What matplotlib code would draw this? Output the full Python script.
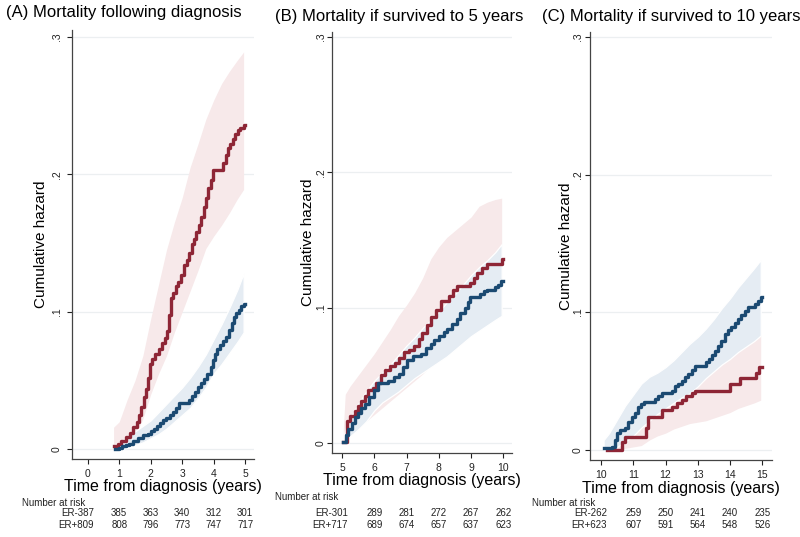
import numpy as np
import matplotlib
matplotlib.use("Agg")
import matplotlib.pyplot as plt
from matplotlib import transforms

plt.rcParams['font.family'] = ['Liberation Sans', 'DejaVu Sans']

RED = '#8e2636'
BLUE = '#1b4a72'
RED_BAND = '#f7e9ea'
BLUE_BAND = '#e5ecf3'
GRID = '#eceff1'
AXC = '#444444'

# ---------------- panel A: from diagnosis ----------------
a_red_t = [0.82, 0.95, 1.05, 1.2, 1.35, 1.45, 1.55, 1.62, 1.7, 1.78, 1.85, 1.92, 1.97,
           2.05, 2.15, 2.25, 2.35, 2.45, 2.52, 2.58, 2.63, 2.72, 2.8, 2.88, 2.97, 3.05,
           3.15, 3.22, 3.3, 3.38, 3.45, 3.52, 3.6, 3.68, 3.75, 3.82, 3.9, 3.98, 4.3,
           4.38, 4.45, 4.52, 4.6, 4.68, 4.76, 4.85, 4.95]
a_red_h = [0.002, 0.004, 0.006, 0.009, 0.012, 0.016, 0.020, 0.025, 0.031, 0.038, 0.044,
           0.052, 0.062, 0.066, 0.069, 0.073, 0.077, 0.081, 0.086, 0.098, 0.110, 0.114,
           0.119, 0.122, 0.127, 0.134, 0.138, 0.143, 0.149, 0.153, 0.158, 0.163, 0.169,
           0.176, 0.183, 0.190, 0.196, 0.203, 0.208, 0.214, 0.219, 0.222, 0.226, 0.229,
           0.232, 0.234, 0.236]
a_blue_t = [0.85, 1.0, 1.1, 1.2, 1.3, 1.45, 1.6, 1.75, 1.9, 2.0, 2.1, 2.2, 2.3, 2.4, 2.5,
            2.6, 2.7, 2.8, 2.9, 3.2, 3.3, 3.4, 3.5, 3.6, 3.7, 3.8, 3.9, 3.97, 4.05, 4.12,
            4.2, 4.3, 4.4, 4.5, 4.58, 4.65, 4.72, 4.8, 4.88, 4.95]
a_blue_h = [0.000, 0.001, 0.002, 0.003, 0.004, 0.006, 0.008, 0.010, 0.011, 0.013, 0.015,
            0.017, 0.019, 0.021, 0.023, 0.025, 0.027, 0.030, 0.034, 0.036, 0.039, 0.042,
            0.045, 0.048, 0.051, 0.055, 0.060, 0.065, 0.069, 0.073, 0.076, 0.079, 0.082,
            0.087, 0.092, 0.096, 0.099, 0.101, 0.104, 0.106]
a_red_band_t = [0.82, 1.0, 1.25, 1.5, 1.75, 2.0, 2.25, 2.5, 2.75, 3.0, 3.25, 3.5, 3.75,
                4.0, 4.25, 4.5, 4.75, 4.95]
a_red_hi = [0.016, 0.020, 0.036, 0.050, 0.068, 0.095, 0.120, 0.145, 0.165, 0.183, 0.205,
            0.222, 0.240, 0.254, 0.266, 0.275, 0.283, 0.289]
a_red_lo = [0.000, 0.001, 0.004, 0.010, 0.022, 0.040, 0.055, 0.068, 0.085, 0.100, 0.115,
            0.130, 0.146, 0.155, 0.163, 0.172, 0.182, 0.189]
a_blue_band_t = [0.85, 1.0, 1.25, 1.5, 1.75, 2.0, 2.25, 2.5, 2.75, 3.0, 3.25, 3.5, 3.75,
                 4.0, 4.25, 4.5, 4.75, 4.95]
a_blue_hi = [0.003, 0.005, 0.009, 0.013, 0.017, 0.021, 0.027, 0.033, 0.039, 0.045, 0.052,
             0.060, 0.069, 0.080, 0.091, 0.103, 0.116, 0.128]
a_blue_lo = [0.000, 0.000, 0.001, 0.003, 0.005, 0.008, 0.011, 0.015, 0.020, 0.025, 0.030,
             0.037, 0.045, 0.055, 0.062, 0.070, 0.078, 0.085]
a_end = 5.0
a_ticks = [0, 1, 2, 3, 4, 5]
a_neg = [387, 385, 363, 340, 312, 301]
a_pos = [809, 808, 796, 773, 747, 717]

# ---------------- panel B: survived to 5 years ----------------
b_red_t = [5.04, 5.14, 5.25, 5.4, 5.5, 5.6, 5.7, 5.81, 5.95, 6.06, 6.2, 6.32, 6.48, 6.63,
           6.78, 6.93, 7.08, 7.24, 7.38, 7.49, 7.62, 7.75, 7.9, 8.06, 8.31, 8.45, 8.57,
           8.98, 9.08, 9.18, 9.35, 9.49, 9.95]
b_red_h = [0.001, 0.016, 0.020, 0.024, 0.027, 0.031, 0.035, 0.039, 0.041, 0.044, 0.050,
           0.054, 0.057, 0.059, 0.063, 0.067, 0.069, 0.072, 0.077, 0.081, 0.087, 0.093,
           0.098, 0.105, 0.109, 0.113, 0.116, 0.118, 0.122, 0.126, 0.129, 0.132, 0.136]
b_blue_t = [5.04, 5.12, 5.2, 5.3, 5.4, 5.5, 5.6, 5.71, 5.85, 6.0, 6.11, 6.42, 6.6, 6.78,
            6.9, 7.03, 7.2, 7.44, 7.6, 7.75, 7.85, 8.0, 8.15, 8.26, 8.4, 8.55, 8.67, 8.8,
            8.9, 8.98, 9.29, 9.4, 9.49, 9.75, 9.85, 9.92]
b_blue_h = [0.001, 0.006, 0.010, 0.015, 0.019, 0.022, 0.026, 0.029, 0.034, 0.039, 0.044,
            0.046, 0.049, 0.051, 0.056, 0.061, 0.064, 0.066, 0.070, 0.073, 0.076, 0.079,
            0.082, 0.084, 0.088, 0.092, 0.096, 0.100, 0.104, 0.108, 0.110, 0.112, 0.113,
            0.115, 0.117, 0.120]
b_band_t = [5.04, 5.1, 5.25, 5.5, 5.75, 6.0, 6.25, 6.5, 6.75, 7.0, 7.25, 7.5, 7.75, 8.0,
            8.25, 8.5, 8.75, 9.0, 9.25, 9.5, 9.75, 9.95]
b_red_hi = [0.010, 0.036, 0.042, 0.050, 0.058, 0.066, 0.075, 0.084, 0.094, 0.102, 0.111,
            0.122, 0.136, 0.145, 0.152, 0.157, 0.162, 0.167, 0.175, 0.178, 0.180, 0.181]
b_red_lo = [0.000, 0.004, 0.007, 0.011, 0.016, 0.021, 0.026, 0.031, 0.036, 0.041, 0.046,
            0.051, 0.057, 0.063, 0.068, 0.073, 0.078, 0.082, 0.086, 0.089, 0.092, 0.095]
b_blue_hi = [0.003, 0.010, 0.018, 0.029, 0.038, 0.046, 0.052, 0.058, 0.065, 0.072, 0.078,
             0.085, 0.091, 0.097, 0.104, 0.110, 0.117, 0.124, 0.130, 0.135, 0.141, 0.147]
b_blue_lo = [0.000, 0.002, 0.005, 0.010, 0.016, 0.024, 0.030, 0.034, 0.038, 0.043, 0.048,
             0.052, 0.056, 0.060, 0.064, 0.069, 0.074, 0.079, 0.083, 0.087, 0.091, 0.094]
b_end = 10.0
b_ticks = [5, 6, 7, 8, 9, 10]
b_neg = [301, 289, 281, 272, 267, 262]
b_pos = [717, 689, 674, 657, 637, 623]

# ---------------- panel C: survived to 10 years ----------------
c_red_t = [10.18, 10.64, 10.75, 11.38, 11.47, 11.9, 12.2, 12.35, 12.5, 12.65, 12.81,
           12.91, 14.0, 14.3, 14.8, 14.9]
c_red_h = [0.000, 0.0055, 0.009, 0.016, 0.024, 0.029, 0.031, 0.034, 0.036, 0.039, 0.041,
           0.043, 0.048, 0.052, 0.056, 0.060]
c_blue_t = [10.08, 10.34, 10.42, 10.49, 10.6, 10.75, 10.85, 10.96, 11.06, 11.16, 11.25,
            11.32, 11.68, 11.78, 11.88, 12.19, 12.3, 12.4, 12.5, 12.6, 12.7, 12.81, 12.91,
            13.27, 13.35, 13.45, 13.53, 13.62, 13.72, 13.84, 13.94, 14.04, 14.15, 14.25,
            14.35, 14.45, 14.56, 14.76, 14.86, 14.95]
c_blue_h = [0.001, 0.002, 0.007, 0.012, 0.014, 0.016, 0.020, 0.024, 0.027, 0.031, 0.033,
            0.035, 0.037, 0.039, 0.041, 0.043, 0.046, 0.048, 0.050, 0.053, 0.055, 0.058,
            0.061, 0.064, 0.066, 0.069, 0.072, 0.075, 0.079, 0.084, 0.087, 0.089, 0.092,
            0.095, 0.098, 0.101, 0.104, 0.106, 0.108, 0.111]
c_band_t = [10.08, 10.25, 10.5, 10.75, 11.0, 11.25, 11.5, 11.75, 12.0, 12.25, 12.5, 12.75,
            13.0, 13.25, 13.5, 13.75, 14.0, 14.25, 14.5, 14.75, 14.95]
c_blue_hi = [0.007, 0.012, 0.022, 0.032, 0.040, 0.048, 0.053, 0.056, 0.060, 0.065, 0.071,
             0.077, 0.082, 0.088, 0.095, 0.103, 0.110, 0.118, 0.125, 0.132, 0.138]
c_blue_lo = [0.000, 0.000, 0.002, 0.006, 0.010, 0.016, 0.021, 0.026, 0.030, 0.034, 0.038,
             0.041, 0.046, 0.052, 0.057, 0.062, 0.066, 0.071, 0.075, 0.079, 0.083]
c_red_band_t = [10.18, 10.25, 10.5, 10.75, 11.0, 11.25, 11.5, 11.75, 12.0, 12.25, 12.5,
                12.75, 13.0, 13.25, 13.5, 13.75, 14.0, 14.25, 14.5, 14.75, 14.95]
c_red_hi = [0.002, 0.004, 0.008, 0.015, 0.018, 0.022, 0.036, 0.040, 0.045, 0.049, 0.054,
            0.059, 0.062, 0.064, 0.066, 0.068, 0.072, 0.078, 0.082, 0.087, 0.095]
c_red_lo = [0.000, 0.000, 0.000, 0.001, 0.002, 0.003, 0.007, 0.010, 0.012, 0.015, 0.017,
            0.019, 0.020, 0.021, 0.023, 0.025, 0.027, 0.030, 0.032, 0.034, 0.036]
c_end = 15.0
c_ticks = [10, 11, 12, 13, 14, 15]
c_neg = [262, 259, 250, 241, 240, 235]
c_pos = [623, 607, 591, 564, 548, 526]

y_ticks = [0, 0.1, 0.2, 0.3]
y_labels = ['0', '.1', '.2', '.3']

W, H = 800, 537
fig = plt.figure(figsize=(W / 100, H / 100), dpi=100)


def box(l, r, t, b):
    return [l / W, 1 - b / H, (r - l) / W, (b - t) / H]


def ext(t, h, end):
    # carry the last value to the end of follow-up
    return np.append(t, end), np.append(h, h[-1])


def panel(rect, xlim, ylim, ticks, title, title_xy, ylab_x, ypad,
          red, blue, red_band, blue_band, end, neg, pos, nar_xy):
    ax = fig.add_axes(rect)
    ax.set_xlim(*xlim)
    ax.set_ylim(*ylim)
    for s in ['top', 'right']:
        ax.spines[s].set_visible(False)
    for s in ['left', 'bottom']:
        ax.spines[s].set_color(AXC)
        ax.spines[s].set_linewidth(0.9)
    for yv in y_ticks:
        ax.axhline(yv, color=GRID, lw=0.9, zorder=0)

    rt, rlo, rhi = red_band
    ax.fill_between(rt, rlo, rhi, color=RED_BAND, lw=0, zorder=1)
    bt, blo, bhi = blue_band
    ax.fill_between(bt, blo, bhi, facecolor=BLUE_BAND,
                    edgecolor='white', lw=0.9, zorder=2)

    tr, hr = ext(*red, end)
    ax.step(tr, hr, where='post', color=RED, lw=2.4, zorder=3)
    tb, hb = ext(*blue, end)
    ax.step(tb, hb, where='post', color=BLUE, lw=2.4, zorder=4)

    ax.set_xticks(ticks)
    ax.set_xticklabels([str(t) for t in ticks])
    ax.set_yticks(y_ticks)
    ax.set_yticklabels(y_labels, rotation=90, va='center')
    ax.tick_params(axis='both', labelsize=7.5, colors='#222222', length=3.6,
                   width=0.8, direction='out')
    ax.tick_params(axis='x', pad=3.5)
    ax.tick_params(axis='y', pad=ypad)

    h_px = rect[3] * H
    ax.set_xlabel('Time from diagnosis (years)', fontsize=11.5)
    ax.xaxis.label.set_verticalalignment('center')
    ax.xaxis.set_label_coords(0.5, -28 / h_px)
    ax.set_ylabel('Cumulative hazard', fontsize=11)
    ax.yaxis.label.set_verticalalignment('center')
    ax.yaxis.set_label_coords(ylab_x, 0.5)

    fig.text(title_xy[0], title_xy[1], title, fontsize=12, ha='left', va='center')

    # number at risk table
    fig.text(nar_xy[0], nar_xy[1], 'Number at risk', fontsize=7, ha='left',
             va='center', color='#222222')
    trf = transforms.blended_transform_factory(ax.transData, fig.transFigure)
    trl = transforms.offset_copy(trf, fig=fig, x=6, y=0, units='dots')
    for name, counts, yr in [('ER-', neg, 1 - 513 / H), ('ER+', pos, 1 - 524.5 / H)]:
        ax.text(ticks[0], yr, f'{name}{counts[0]}', transform=trl, ha='right',
                va='center', fontsize=7, color='#222222', clip_on=False)
        for t, n in zip(ticks[1:], counts[1:]):
            ax.text(t, yr, str(n), transform=trf, ha='center', va='center',
                    fontsize=7, color='#222222', clip_on=False)
    return ax


panel(box(72, 254, 30, 459), (-0.5, 5.28), (-0.0071, 0.305), a_ticks,
      '(A) Mortality following diagnosis', (6 / W, 1 - 13 / H), -0.168, 3.8,
      (a_red_t, a_red_h), (a_blue_t, a_blue_h),
      (a_red_band_t, a_red_lo, a_red_hi), (a_blue_band_t, a_blue_lo, a_blue_hi),
      a_end, a_neg, a_pos, (22 / W, 1 - 503 / H))

panel(box(332, 512, 32, 453), (4.69, 10.27), (-0.0074, 0.3038), b_ticks,
      '(B) Mortality if survived to 5 years', (275 / W, 1 - 17 / H), -0.132, 0.8,
      (b_red_t, b_red_h), (b_blue_t, b_blue_h),
      (b_band_t, b_red_lo, b_red_hi), (b_band_t, b_blue_lo, b_blue_hi),
      b_end, b_neg, b_pos, (275 / W, 1 - 497 / H))

panel(box(590, 772, 32, 460), (9.66, 15.30), (-0.0075, 0.3036), c_ticks,
      '(C) Mortality if survived to 10 years', (542 / W, 1 - 17 / H), -0.13, 1.5,
      (c_red_t, c_red_h), (c_blue_t, c_blue_h),
      (c_red_band_t, c_red_lo, c_red_hi), (c_band_t, c_blue_lo, c_blue_hi),
      c_end, c_neg, c_pos, (532 / W, 1 - 503 / H))

fig.savefig('out.png', dpi=100)
